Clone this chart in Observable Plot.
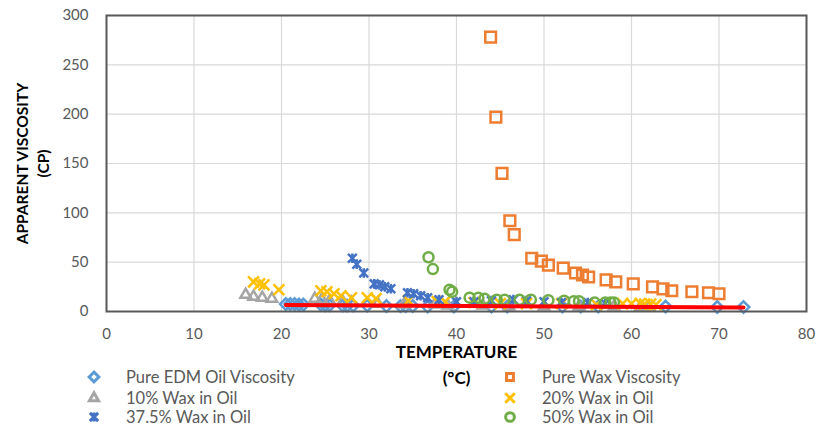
<!DOCTYPE html>
<html><head><meta charset="utf-8">
<script src="https://cdn.jsdelivr.net/npm/d3@7"></script>
<script src="https://cdn.jsdelivr.net/npm/@observablehq/plot@0.6"></script>
<style>
body{margin:0;background:#fff;font-family:Lato,"Open Sans",sans-serif;}
#wrap{position:relative;width:816px;height:429px;overflow:hidden;}
.lt{position:absolute;font-size:16.5px;color:#595959;line-height:20px;white-space:nowrap;}
.lm{position:absolute;width:16px;height:16px;}
</style></head><body><div id="wrap"></div>
<script>
// ---- data ----
const xTicks = [0, 10, 20, 30, 40, 50, 60, 70, 80];
const yTicks = [0, 50, 100, 150, 200, 250, 300];

const oilTemp = [20.5,21,21.5,22,22.5,24.5,25,25.5,27,27.5,28.2,29.8,32,33.6,34.2,35,36.7,39.7,44,45.8,52.1,54.2,56.2,63.9,69.8,72.8];
const oilVisc = [7.5,7.5,7.5,7,7,7,6.5,6.5,6,6,6,6,5.5,5.5,5.5,5.5,5,5,5,5,5,5,5,5,4.5,4.5];

const waxTemp = [43.9,44.5,45.2,46.1,46.6,48.6,49.7,50.5,52.2,53.6,54.4,55.1,57.1,58.2,60.2,62.4,63.6,64.6,66.9,68.8,70.0];
const waxVisc = [278,197,140,92,78,54,51,47,44,39,37,35,32,30,28,25,23,21,20,19,18];

const w10Temp = [15.9,16.8,17.8,18.9,23.8,24.6,25.5,27,28,31,34,37.5,39,43,46,50,54,58,61,62];
const w10Visc = [17,15,14,13,13,12,11,10,9,8,7,7,6,6,5,5,5,5,4.5,4.5];

const w20Temp = [16.8,17.5,18,19.7,24.5,25.2,26,26.8,28,29.8,30.8,34.5,37.8,38.7,42,45,48,52,56,59,60,61,61.5,62.2,62.8];
const w20Visc = [30,28,27,22,21,20,18,16,14,14,13,11,10,10,9,8,8,8,7,8,8,8,7.5,7.5,7];

const w375Temp = [28.1,28.6,29.4,30.6,31.2,31.8,32.5,34.4,35.1,35.9,36.7,38,40,42,44,46.5,48,50,52,55,57];
const w375Visc = [54,48,39,28,27,25,23,19,18,16,14,12,10,10,11,12,11,10,9,9,8];

const w50Temp = [36.8,37.3,39.2,39.5,41.5,42.5,43.2,44.6,45.5,47.2,48.5,50.5,52.3,53.4,54,55.8,57,57.6,58];
const w50Visc = [55,43,22,20,14,14,13,12,12,12,12,11.5,11,10.5,10.5,9,9,9,9];

const seriesNames = ["Pure EDM Oil Viscosity","Pure Wax Viscosity","10% Wax in Oil","20% Wax in Oil","37.5% Wax in Oil","50% Wax in Oil"];
const seriesColors = ["#5B9BD5","#ED7D31","#A5A5A5","#FFC000","#4472C4","#70AD47"];

const zip = (t, v) => t.map((d, i) => ({t: d, v: v[i]}));
const oil = zip(oilTemp, oilVisc), wax = zip(waxTemp, waxVisc),
      w10 = zip(w10Temp, w10Visc), w20 = zip(w20Temp, w20Visc),
      w375 = zip(w375Temp, w375Visc), w50 = zip(w50Temp, w50Visc);

// Excel-like "star" marker: an X plus a vertical bar
const starSymbol = {
  draw(ctx, size) {
    const r = Math.sqrt(size / Math.PI) * 0.95;
    ctx.moveTo(-r, -r); ctx.lineTo(r, r);
    ctx.moveTo(r, -r); ctx.lineTo(-r, r);
    ctx.moveTo(0, -r * 1.1); ctx.lineTo(0, r * 1.1);
  }
};
const symbols = ["diamond2","square2","triangle2","times",starSymbol,"circle"];

const dotOpts = (i, r) => ({x: "t", y: "v", symbol: symbols[i], stroke: seriesColors[i], fill: "none", strokeWidth: 2.5, r});

const chart = Plot.plot({
  width: 816, height: 429,
  marginLeft: 106, marginRight: 10, marginTop: 15, marginBottom: 118,
  style: {fontFamily: "Lato, 'Open Sans', sans-serif", fontSize: "15px", color: "#595959", background: "#fff"},
  x: {domain: [0, 80]},
  y: {domain: [0, 300]},
  marks: [
    Plot.gridX(xTicks, {stroke: "#d9d9d9", strokeOpacity: 1, strokeWidth: 1.2}),
    Plot.gridY(yTicks, {stroke: "#d9d9d9", strokeOpacity: 1, strokeWidth: 1.2}),
    Plot.axisX(xTicks, {tickSize: 0, tickPadding: 17, label: null, fontSize: 15}),
    Plot.axisY(yTicks, {tickSize: 0, tickPadding: 18, label: null, fontSize: 15}),
    Plot.dot(oil, dotOpts(0, 5.2)),
    Plot.dot(wax, dotOpts(1, 6.8)),
    Plot.dot(w10, dotOpts(2, 5)),
    Plot.dot(w20, dotOpts(3, 5)),
    Plot.dot(w375, dotOpts(4, 4.6)),
    Plot.dot(w50, dotOpts(5, 5)),
    Plot.linearRegressionY(oil, {x: "t", y: "v", stroke: "#FF0000", strokeWidth: 4, ci: 0}),
    Plot.frame({stroke: "#595959", strokeWidth: 2}),
    Plot.text(["APPARENT VISCOSITY\n(CP)"], {frameAnchor: "left", textAnchor: "middle", lineAnchor: "middle", rotate: -90, dx: -75, lineHeight: 1.4, fontWeight: "bold", fill: "#000", fontSize: 15.5}),
    Plot.text(["TEMPERATURE\n(°C)"], {frameAnchor: "bottom", textAnchor: "middle", lineAnchor: "middle", dy: 51, lineHeight: 1.55, fontWeight: "bold", fill: "#000", fontSize: 17})
  ]
});
const wrap = document.getElementById("wrap");
wrap.appendChild(chart);

// legend (below the plot, two columns)
const legendPos = [[94,126,377],[510,542,377],[94,126,398],[510,542,398],[94,126,417],[510,542,417]];
const typeMap = {diamond2: d3.symbolDiamond2, square2: d3.symbolSquare2, triangle2: d3.symbolTriangle2, times: d3.symbolTimes, circle: d3.symbolCircle};
seriesNames.forEach((name, si) => {
  const [mx, tx, y] = legendPos[si];
  const svg = d3.create("svg").attr("class","lm").attr("width",16).attr("height",16)
    .style("left", (mx - 8) + "px").style("top", (y - 8) + "px");
  const type = typeof symbols[si] === "string" ? typeMap[symbols[si]] : symbols[si];
  svg.append("path").attr("transform","translate(8,8)")
    .attr("d", d3.symbol(type, 60)())
    .attr("fill","none").attr("stroke", seriesColors[si]).attr("stroke-width", 3);
  wrap.appendChild(svg.node());
  const div = document.createElement("div");
  div.className = "lt"; div.textContent = name;
  div.style.left = tx + "px"; div.style.top = (y - 10) + "px";
  wrap.appendChild(div);
});
</script>
</body></html>
